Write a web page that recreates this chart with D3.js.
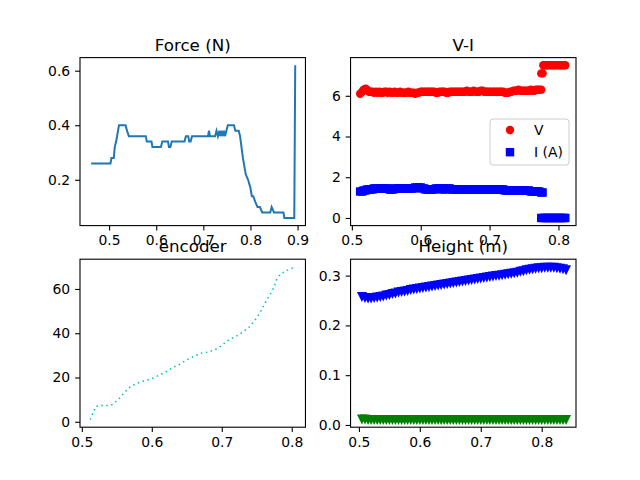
<!DOCTYPE html>
<html><head><meta charset="utf-8">
<script src="https://cdn.jsdelivr.net/npm/d3@7"></script>
<style>body{margin:0;background:#fff}text{font-family:"DejaVu Sans";}</style>
</head><body><svg id="c" width="640" height="480"></svg>
<script>
const forceX=[0.462,0.503,0.505,0.510,0.512,0.515,0.518,0.521,0.535,0.538,0.542,0.578,0.580,0.590,0.592,0.600,0.610,0.613,0.625,0.627,0.630,0.633,0.635,0.660,0.663,0.668,0.670,0.673,0.676,0.678,0.710,0.712,0.714,0.717,0.725,0.728,0.731,0.734,0.736,0.739,0.741,0.744,0.746,0.749,0.752,0.755,0.765,0.768,0.775,0.778,0.781,0.784,0.787,0.790,0.795,0.800,0.803,0.806,0.810,0.815,0.820,0.825,0.830,0.842,0.845,0.850,0.870,0.872,0.893,0.895];
const forceY=[0.26,0.26,0.28,0.28,0.32,0.34,0.37,0.40,0.40,0.38,0.36,0.36,0.34,0.34,0.32,0.32,0.32,0.34,0.34,0.32,0.32,0.34,0.34,0.34,0.36,0.36,0.34,0.34,0.36,0.36,0.36,0.38,0.36,0.36,0.36,0.38,0.36,0.38,0.36,0.38,0.36,0.38,0.36,0.38,0.40,0.40,0.40,0.38,0.38,0.36,0.32,0.28,0.25,0.22,0.20,0.17,0.14,0.14,0.12,0.10,0.10,0.08,0.08,0.08,0.10,0.08,0.08,0.06,0.06,0.62];
const viX=[0.512,0.515,0.517,0.520,0.522,0.525,0.527,0.530,0.532,0.535,0.537,0.540,0.542,0.545,0.547,0.550,0.552,0.555,0.557,0.560,0.562,0.565,0.567,0.570,0.572,0.575,0.577,0.580,0.582,0.585,0.587,0.590,0.592,0.595,0.597,0.600,0.602,0.605,0.607,0.610,0.612,0.615,0.617,0.620,0.622,0.625,0.627,0.630,0.632,0.635,0.637,0.640,0.642,0.645,0.647,0.650,0.652,0.655,0.657,0.660,0.662,0.665,0.667,0.670,0.672,0.675,0.677,0.680,0.682,0.685,0.687,0.690,0.692,0.695,0.697,0.700,0.702,0.705,0.707,0.710,0.712,0.715,0.717,0.720,0.722,0.725,0.727,0.730,0.732,0.735,0.737,0.740,0.742,0.745,0.747,0.750,0.752,0.755,0.757,0.760,0.762,0.765,0.767,0.770,0.772,0.775,0.777];
const vVals=[6.1,6.2,6.3,6.35,6.3,6.2,6.2,6.2,6.15,6.2,6.15,6.2,6.15,6.15,6.2,6.2,6.15,6.2,6.15,6.15,6.2,6.15,6.15,6.2,6.15,6.15,6.15,6.15,6.2,6.15,6.15,6.15,6.1,6.15,6.15,6.2,6.2,6.2,6.2,6.2,6.2,6.2,6.2,6.2,6.15,6.15,6.2,6.2,6.2,6.2,6.15,6.15,6.2,6.2,6.2,6.2,6.2,6.2,6.2,6.2,6.2,6.2,6.25,6.2,6.2,6.2,6.25,6.2,6.2,6.2,6.25,6.25,6.2,6.2,6.2,6.2,6.2,6.2,6.2,6.2,6.2,6.2,6.2,6.2,6.15,6.15,6.15,6.2,6.2,6.25,6.25,6.25,6.3,6.25,6.25,6.25,6.25,6.25,6.25,6.3,6.25,6.25,6.3,6.3,6.3,6.3,7.1];
const iVals=[1.3,1.3,1.35,1.35,1.4,1.4,1.4,1.4,1.45,1.45,1.45,1.45,1.45,1.45,1.45,1.45,1.45,1.4,1.4,1.4,1.45,1.45,1.45,1.45,1.45,1.45,1.45,1.45,1.45,1.45,1.45,1.45,1.5,1.5,1.5,1.5,1.45,1.45,1.4,1.4,1.4,1.4,1.4,1.4,1.45,1.45,1.45,1.45,1.4,1.4,1.45,1.45,1.45,1.4,1.4,1.4,1.4,1.4,1.4,1.4,1.4,1.4,1.4,1.4,1.4,1.4,1.4,1.4,1.4,1.4,1.4,1.4,1.4,1.4,1.4,1.4,1.4,1.4,1.4,1.4,1.4,1.4,1.4,1.4,1.35,1.35,1.35,1.35,1.35,1.35,1.35,1.35,1.35,1.35,1.35,1.35,1.35,1.35,1.35,1.3,1.3,1.3,1.3,1.3,1.3,1.25,1.25];
const tailX=[0.775,0.778,0.780,0.783,0.785,0.788,0.790,0.793,0.795,0.798,0.800,0.803,0.805,0.808,0.810];
const tailV=[7.1,7.5,7.5,7.5,7.5,7.5,7.5,7.5,7.5,7.5,7.5,7.5,7.5,7.5,7.5];
const tailI=[0,0,0,0,0,0,0,0,0,0,0,0,0,0,0];
const encX=[0.512,0.516,0.520,0.525,0.532,0.540,0.545,0.550,0.555,0.560,0.565,0.570,0.580,0.590,0.600,0.610,0.620,0.630,0.640,0.650,0.660,0.670,0.680,0.690,0.700,0.710,0.720,0.730,0.740,0.745,0.750,0.755,0.760,0.765,0.770,0.775,0.778,0.782,0.790,0.798,0.805];
const encY=[1,4,7,7.3,7.3,7.3,8,9.5,11,13,14.5,16,17.5,18.5,19.5,21,22.5,24.5,26,28,29.5,31,31.5,32.5,34.5,37,38.5,40.5,43,45,47,49.5,52.5,55.5,58,61,64,66,68,69,70];
const hX=[0.505,0.510,0.515,0.520,0.525,0.530,0.535,0.540,0.545,0.550,0.555,0.560,0.565,0.570,0.575,0.580,0.585,0.590,0.595,0.600,0.605,0.610,0.615,0.620,0.625,0.630,0.635,0.640,0.645,0.650,0.655,0.660,0.665,0.670,0.675,0.680,0.685,0.690,0.695,0.700,0.705,0.710,0.715,0.720,0.725,0.730,0.735,0.740,0.745,0.750,0.755,0.760,0.765,0.770,0.775,0.780,0.785,0.790,0.795,0.800,0.805,0.810,0.815,0.820,0.825,0.830,0.835,0.840];
const hBlue=[0.257,0.255,0.254,0.254,0.255,0.256,0.257,0.258,0.260,0.261,0.263,0.264,0.266,0.267,0.268,0.269,0.271,0.272,0.273,0.274,0.275,0.276,0.277,0.278,0.279,0.280,0.281,0.282,0.283,0.284,0.285,0.286,0.287,0.288,0.289,0.290,0.291,0.292,0.293,0.294,0.295,0.296,0.297,0.298,0.299,0.300,0.301,0.302,0.303,0.304,0.305,0.306,0.308,0.309,0.311,0.312,0.313,0.314,0.315,0.315,0.316,0.316,0.316,0.316,0.315,0.314,0.313,0.311];
const hGreen=[0.011,0.011,0.010,0.010,0.010,0.010,0.010,0.010,0.010,0.010,0.010,0.010,0.010,0.010,0.010,0.010,0.010,0.010,0.010,0.010,0.010,0.010,0.010,0.010,0.010,0.010,0.010,0.010,0.010,0.010,0.010,0.010,0.010,0.010,0.010,0.010,0.010,0.010,0.010,0.010,0.010,0.010,0.010,0.010,0.010,0.010,0.010,0.010,0.010,0.010,0.010,0.010,0.010,0.010,0.010,0.010,0.010,0.010,0.010,0.010,0.010,0.010,0.010,0.010,0.010,0.010,0.010,0.010];

const svg=d3.select("#c");
const W=225.45,H=168;
const cols=[80,350.55],rows=[57.6,259.2];
function panel(c,r,xd,yd,xt,yt,title,fmt){
  const x=d3.scaleLinear().domain(xd).range([cols[c],cols[c]+W]);
  const y=d3.scaleLinear().domain(yd).range([rows[r]+H,rows[r]]);
  const g=svg.append("g");
  g.append("g").attr("transform",`translate(0,${rows[r]+H})`).call(d3.axisBottom(x).tickValues(xt).tickFormat(d3.format(".1f")).tickSizeOuter(0).tickSize(4.9).tickPadding(4.9));
  g.append("g").attr("transform",`translate(${cols[c]},0)`).call(d3.axisLeft(y).tickValues(yt).tickFormat(fmt).tickSizeOuter(0).tickSize(4.9).tickPadding(4.9));
  g.selectAll(".domain").remove();
  g.selectAll(".tick text").attr("font-size",13.9).attr("font-family","DejaVu Sans").attr("fill","#000");
  g.selectAll(".tick line").attr("stroke","#000").attr("stroke-width",1.1);
  const plot=svg.append("g");
  svg.append("text").attr("x",cols[c]+W/2).attr("y",rows[r]-7).attr("text-anchor","middle").attr("font-size",16.7).text(title);
  return {x,y,plot,frame:()=>svg.append("rect").attr("x",cols[c]).attr("y",rows[r]).attr("width",W).attr("height",H).attr("fill","none").attr("stroke","#000").attr("stroke-width",1.1)};
}
// Force
let p=panel(0,0,[0.4383,0.9167],[0.032,0.648],[0.5,0.6,0.7,0.8,0.9],[0.2,0.4,0.6],"Force (N)",d3.format(".1f"));
p.plot.append("path").datum(forceX.map((v,i)=>[v,forceY[i]])).attr("fill","none").attr("stroke","#1f77b4").attr("stroke-width",2)
 .attr("d",d3.line().x(d=>p.x(d[0])).y(d=>p.y(d[1])));
p.frame();
// V-I
p=panel(1,0,[0.4981,0.8255],[-0.375,7.875],[0.5,0.6,0.7,0.8],[0,2,4,6],"V-I",d3.format("d"));
const allX=viX.concat(tailX),allV=vVals.concat(tailV),allI=iVals.concat(tailI);
p.plot.selectAll(".v").data(allX.map((v,i)=>[v,allV[i]])).join("circle").attr("cx",d=>p.x(d[0])).attr("cy",d=>p.y(d[1])).attr("r",4.2).attr("fill","red");
p.plot.selectAll(".i").data(allX.map((v,i)=>[v,allI[i]])).join("rect").attr("x",d=>p.x(d[0])-4.2).attr("y",d=>p.y(d[1])-4.2).attr("width",8.4).attr("height",8.4).attr("fill","blue");
p.frame();
const lg=svg.append("g");
lg.append("rect").attr("x",490).attr("y",119).attr("width",79).attr("height",46).attr("rx",3).attr("fill","#fff").attr("fill-opacity",0.8).attr("stroke","#ccc");
lg.append("circle").attr("cx",510).attr("cy",130).attr("r",4.2).attr("fill","red");
lg.append("rect").attr("x",505.8).attr("y",148).attr("width",8.4).attr("height",8.4).attr("fill","blue");
lg.append("text").attr("x",534).attr("y",135).attr("font-size",13.9).text("V");
lg.append("text").attr("x",534).attr("y",157).attr("font-size",13.9).text("I (A)");
// encoder
p=panel(0,1,[0.4974,0.8196],[-2.45,73.45],[0.5,0.6,0.7,0.8],[0,20,40,60],"encoder",d3.format("d"));
p.plot.append("path").datum(encX.map((v,i)=>[v,encY[i]])).attr("fill","none").attr("stroke","#00bfbf").attr("stroke-width",1.5).attr("stroke-dasharray","1.5,3.5")
 .attr("d",d3.line().x(d=>p.x(d[0])).y(d=>p.y(d[1])));
p.frame();
// Height
p=panel(1,1,[0.4863,0.8563],[-0.0045,0.333],[0.5,0.6,0.7,0.8],[0,0.1,0.2,0.3],"Height (m)",d3.format(".1f"));
const tri=(cx,cy)=>`M${cx-5},${cy-5}L${cx+5},${cy-5}L${cx},${cy+5}Z`;
p.plot.selectAll(".b").data(hX.map((v,i)=>[v,hBlue[i]])).join("path").attr("d",d=>tri(p.x(d[0]),p.y(d[1]))).attr("fill","blue");
p.plot.selectAll(".g").data(hX.map((v,i)=>[v,hGreen[i]])).join("path").attr("d",d=>tri(p.x(d[0]),p.y(d[1]))).attr("fill","green");
p.frame();
</script></body></html>
